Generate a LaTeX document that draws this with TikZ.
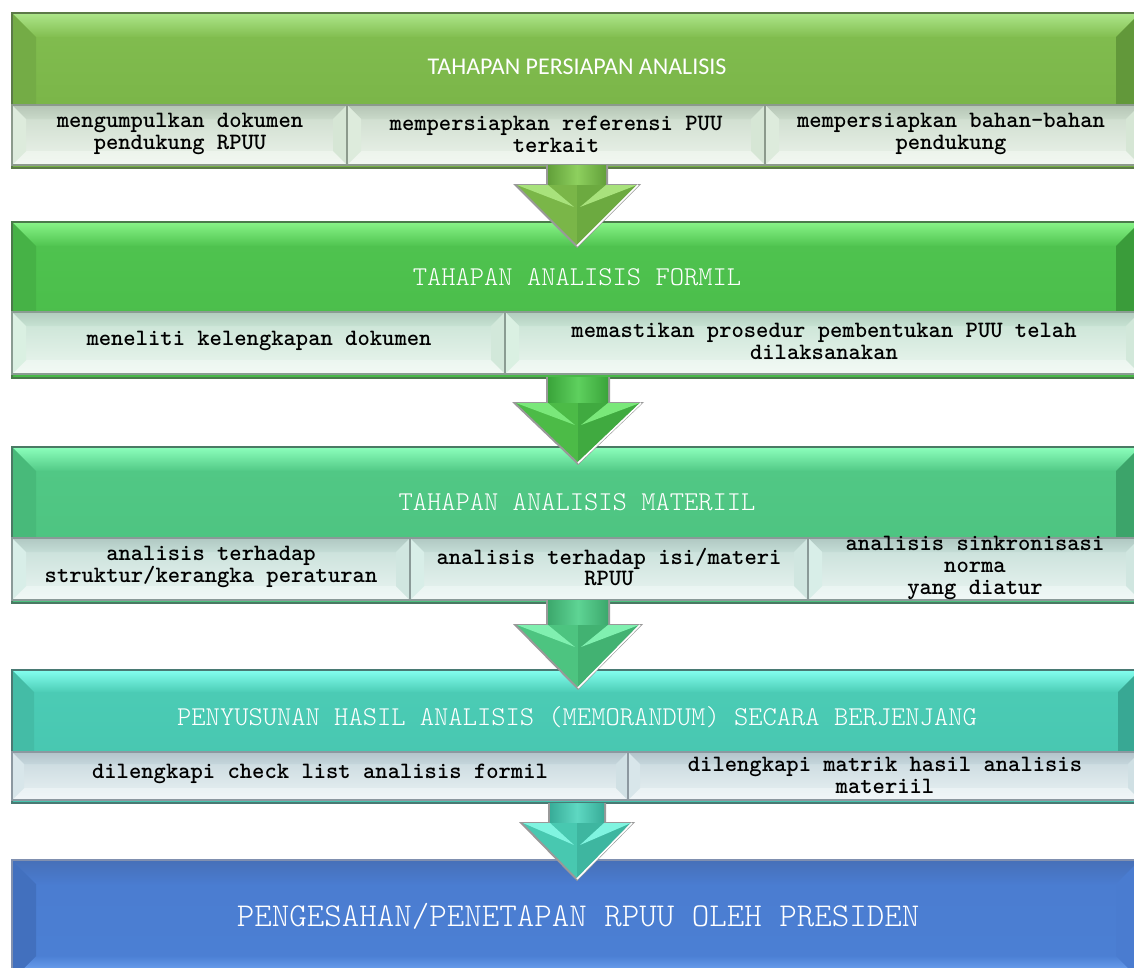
\documentclass[tikz,border=0pt]{standalone}
\usepackage{fontspec}
\usepackage{graphicx}
\newfontfamily\calib{Carlito}
\newfontfamily\lmsub{lmmonolt10-bold.otf}
\newfontfamily\lmlt{lmmonolt10-regular.otf}

% header band colour sets
\definecolor{gAc1}{HTML}{82BE50}\definecolor{gAc2}{HTML}{76B044}\definecolor{gAt}{HTML}{ADE68A}
\definecolor{gAb}{HTML}{76B044}\definecolor{gAl}{HTML}{74AC46}\definecolor{gAr}{HTML}{62983A}\definecolor{gAo}{HTML}{5C7A48}
\definecolor{gBc1}{HTML}{50C450}\definecolor{gBc2}{HTML}{48BA48}\definecolor{gBt}{HTML}{88F488}
\definecolor{gBb}{HTML}{48BA48}\definecolor{gBl}{HTML}{46B246}\definecolor{gBr}{HTML}{3A9C3A}\definecolor{gBo}{HTML}{4A7A4A}
\definecolor{gCc1}{HTML}{52C986}\definecolor{gCc2}{HTML}{4BC17E}\definecolor{gCt}{HTML}{8CFFBC}
\definecolor{gCb}{HTML}{4BC17E}\definecolor{gCl}{HTML}{48BA7A}\definecolor{gCr}{HTML}{3CA46A}\definecolor{gCo}{HTML}{4A7A64}
\definecolor{gDc1}{HTML}{4CCDB6}\definecolor{gDc2}{HTML}{46C4AE}\definecolor{gDt}{HTML}{84FFEF}
\definecolor{gDb}{HTML}{46C4AE}\definecolor{gDl}{HTML}{44BCA6}\definecolor{gDr}{HTML}{38A894}\definecolor{gDo}{HTML}{4A7A74}
\definecolor{gEc1}{HTML}{4A7CD0}\definecolor{gEc2}{HTML}{4C80D4}\definecolor{gEt}{HTML}{4670B8}
\definecolor{gEb}{HTML}{80B4FF}\definecolor{gEl}{HTML}{4270BE}\definecolor{gEr}{HTML}{4A7CD0}\definecolor{gEo}{HTML}{8090B0}
% sub box colour sets
\definecolor{sAc1}{HTML}{C9D9C9}\definecolor{sAc2}{HTML}{EDF4EC}\definecolor{sAt}{HTML}{B5C5B5}
\definecolor{sAb}{HTML}{F2F7F1}\definecolor{sAl}{HTML}{DDEBDC}\definecolor{sAr}{HTML}{D6E6D5}\definecolor{sAo}{HTML}{8C9A8C}
\definecolor{sBc1}{HTML}{C6E2D2}\definecolor{sBc2}{HTML}{ECF6F0}\definecolor{sBt}{HTML}{B2CCBE}
\definecolor{sBb}{HTML}{F2F9F4}\definecolor{sBl}{HTML}{DAF0E2}\definecolor{sBr}{HTML}{D2E8DA}\definecolor{sBo}{HTML}{8A9C92}
\definecolor{sCc1}{HTML}{C4DDD6}\definecolor{sCc2}{HTML}{EAF5F2}\definecolor{sCt}{HTML}{B0C8C2}
\definecolor{sCb}{HTML}{F1F8F6}\definecolor{sCl}{HTML}{D8EEE8}\definecolor{sCr}{HTML}{D0E6E0}\definecolor{sCo}{HTML}{8A9A98}
\definecolor{sDc1}{HTML}{C5D6DC}\definecolor{sDc2}{HTML}{EAF2F4}\definecolor{sDt}{HTML}{B3C3CA}
\definecolor{sDb}{HTML}{F1F6F8}\definecolor{sDl}{HTML}{D8E6EA}\definecolor{sDr}{HTML}{D0E0E4}\definecolor{sDo}{HTML}{8C98A0}
% arrow colour sets
\definecolor{aAd}{HTML}{62A03A}\definecolor{aAl}{HTML}{8ED05E}\definecolor{aAh}{HTML}{7AB648}\definecolor{aAk}{HTML}{6CAA40}\definecolor{aAw}{HTML}{A8E27C}
\definecolor{aBd}{HTML}{3AA43A}\definecolor{aBl}{HTML}{5ED05E}\definecolor{aBh}{HTML}{4CBB47}\definecolor{aBk}{HTML}{40AA40}\definecolor{aBw}{HTML}{7AE87A}
\definecolor{aCd}{HTML}{3CA86C}\definecolor{aCl}{HTML}{5ED494}\definecolor{aCh}{HTML}{4DC480}\definecolor{aCk}{HTML}{42B272}\definecolor{aCw}{HTML}{80F0B0}
\definecolor{aDd}{HTML}{38AC98}\definecolor{aDl}{HTML}{5ED8C2}\definecolor{aDh}{HTML}{48C8B0}\definecolor{aDk}{HTML}{3EB6A0}\definecolor{aDw}{HTML}{80F4E0}

\newcommand\bev[6]{%
 \shade[top color=#1c1,bottom color=#1c2] (#2,#3) rectangle (#4,#5);
 \shade[top color=#1t,bottom color=#1c1] (#2,#3) -- (#4,#3) -- (#4-#6,#3+#6) -- (#2+#6,#3+#6) -- cycle;
 \shade[top color=#1c2,bottom color=#1b] (#2+#6,#5-#6) -- (#4-#6,#5-#6) -- (#4,#5) -- (#2,#5) -- cycle;
 \fill[#1l] (#2,#3) -- (#2+#6,#3+#6) -- (#2+#6,#5-#6) -- (#2,#5) -- cycle;
 \fill[#1r] (#4,#3) -- (#4-#6,#3+#6) -- (#4-#6,#5-#6) -- (#4,#5) -- cycle;
 \draw[#1o,line width=1.2] (#2,#3) rectangle (#4,#5);
}
\newcommand\arr[7]{% set cx sw hw top wy tip
 \fill[black!40] (#2-#3-2,#5) -- (#2-#3-2,#6-1) -- (#2-#4-4,#6-1) -- (#2,#7+3) -- (#2+#4+4,#6-1) -- (#2+#3+2,#6-1) -- (#2+#3+2,#5) -- cycle;
 \shade[left color=#1d,right color=#1d,middle color=#1l] (#2-#3,#5) rectangle (#2+#3,#6);
 \fill[#1h] (#2-#4,#6) -- (#2,#6) -- (#2,#7) -- cycle;
 \fill[#1k] (#2+#4,#6) -- (#2,#6) -- (#2,#7) -- cycle;
 \fill[#1w] (#2-#4,#6) -- (#2-#3,#6) -- (#2-3,#6+22) -- cycle;
 \fill[#1w] (#2+#4,#6) -- (#2+#3,#6) -- (#2+3,#6+22) -- cycle;
 \draw[white,line width=1.2] (#2+#4+1,#6) -- (#2,#7+1);
}

\newcommand\sbfont{\lmsub\fontsize{17.6}{16.4}\selectfont}
\newcommand\hdfont{\lmlt\fontsize{20.4}{22}\selectfont}

\tikzset{
 hd/.style={text=white,inner sep=0pt,anchor=center},
 sb/.style={text=black,inner sep=0pt,align=center,font=\sbfont,anchor=center}
}

\begin{document}
\begin{tikzpicture}[x=0.75pt,y=-0.75pt]
\useasboundingbox (0,0) rectangle (1134,967);
\clip (0,0) rectangle (1134,967);

% ---- band 1
\bev{gA}{12}{13}{1140}{168}{24}
\bev{sA}{12}{105}{347}{165}{14}
\bev{sA}{347}{105}{765}{165}{14}
\bev{sA}{765}{105}{1140}{165}{14}
\node[hd,font=\calib\fontsize{18}{20}\selectfont] (h1) at (577,67) {TAHAPAN PERSIAPAN ANALISIS};
\node[sb] (s11) at (180,134) {mengumpulkan dokumen\\pendukung RPUU};
\node[sb] (s12) at (556,134) {mempersiapkan referensi PUU\\terkait};
\node[sb] (s13) at (951,134) {mempersiapkan bahan-bahan\\pendukung};

% ---- band 2
\bev{gB}{12}{222}{1140}{378}{24}
\bev{sB}{12}{312}{505}{374}{14}
\bev{sB}{505}{312}{1140}{374}{14}
\node[hd,font=\hdfont] (h2) at (577,277) {TAHAPAN ANALISIS FORMIL};
\node[sb] (s21) at (259,341) {meneliti kelengkapan dokumen};
\node[sb] (s22) at (824,341) {memastikan prosedur pembentukan PUU telah\\dilaksanakan};
\arr{aA}{577}{29}{60}{165}{185}{245}

% ---- band 3
\bev{gC}{12}{447}{1140}{603}{24}
\bev{sC}{12}{538}{410}{600}{14}
\bev{sC}{410}{538}{808}{600}{14}
\bev{sC}{808}{538}{1140}{600}{14}
\node[hd,font=\hdfont] (h3) at (577,502) {TAHAPAN ANALISIS MATERIIL};
\node[sb] (s31) at (211,567) {analisis terhadap\\struktur/kerangka peraturan};
\node[sb] (s32) at (609,567) {analisis terhadap isi/materi\\RPUU};
\node[sb] (s33) at (975,568) {analisis sinkronisasi\\norma\\yang diatur};
\arr{aB}{578}{30}{62}{377}{403}{462}

% ---- band 4
\bev{gD}{12}{670}{1140}{803}{22}
\bev{sD}{12}{752}{628}{800}{12}
\bev{sD}{628}{752}{1140}{800}{12}
\node[hd,font=\hdfont] (h4) at (577,717) {PENYUSUNAN HASIL ANALISIS (MEMORANDUM) SECARA BERJENJANG};
\node[sb] (s41) at (320,774) {dilengkapi check list analisis formil};
\node[sb] (s42) at (885,775) {dilengkapi matrik hasil analisis\\materiil};
\arr{aC}{578}{30}{61}{600}{625}{687}

% ---- band 5
\bev{gE}{12}{860}{1140}{980}{24}
\node[hd,font=\lmlt\fontsize{25}{27}\selectfont] (h5) at (578,916) {PENGESAHAN/PENETAPAN RPUU OLEH PRESIDEN};
\arr{aD}{577}{27}{54}{803}{823}{878}
\end{tikzpicture}
\end{document}
